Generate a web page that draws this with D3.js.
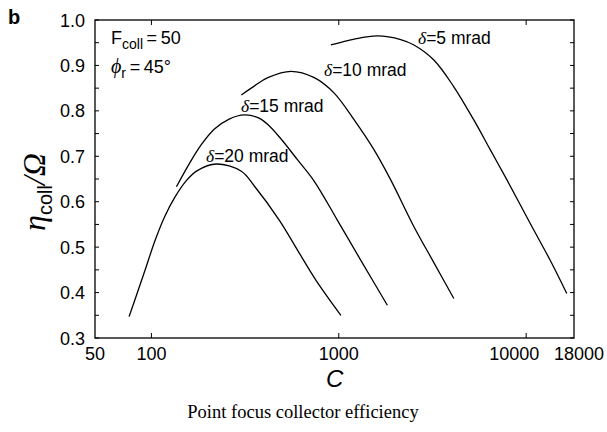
<!DOCTYPE html>
<html><head><meta charset="utf-8">
<script src="https://cdn.jsdelivr.net/npm/d3@7"></script>
<style>body{margin:0;background:#fff}</style>
</head><body>
<svg id="chart" width="607" height="432"></svg>
<script>
// ---- data ----
const xTicks = [50, 100, 1000, 10000, 18000];
const xMajor = [100, 1000, 10000];
const yTicks = [0.3, 0.4, 0.5, 0.6, 0.7, 0.8, 0.9, 1.0];
const yMinor = [0.35, 0.45, 0.55, 0.65, 0.75, 0.85, 0.95];

const d20C = [76, 85, 94, 104, 118, 133, 154, 175, 222, 302, 355, 482, 603, 756, 1026];
const d20V = [0.347, 0.405, 0.458, 0.512, 0.568, 0.609, 0.647, 0.668, 0.683, 0.667, 0.634, 0.559, 0.493, 0.427, 0.350];
const d15C = [136, 160, 185, 217, 260, 314, 370, 418, 492, 603, 740, 984, 1311, 1816];
const d15V = [0.633, 0.685, 0.726, 0.760, 0.782, 0.791, 0.785, 0.770, 0.738, 0.692, 0.645, 0.559, 0.471, 0.372];
const d10C = [302, 355, 418, 556, 740, 945, 1208, 1543, 1893, 2518, 3216, 4110];
const d10V = [0.835, 0.855, 0.873, 0.887, 0.873, 0.839, 0.780, 0.714, 0.648, 0.545, 0.466, 0.387];
const d5C = [908, 1208, 1607, 2140, 2518, 3216, 4110, 5255, 6442, 7897, 10515, 13435, 16470];
const d5V = [0.945, 0.958, 0.965, 0.957, 0.945, 0.912, 0.853, 0.780, 0.714, 0.648, 0.552, 0.471, 0.398];

const seriesNames = ["20", "15", "10", "5"];

// ---- drawing ----
const svg = d3.select("#chart");
const L = 95, R = 574, T = 20, B = 338;
const x = d3.scaleLog().domain([50, 18000]).range([L, R]);
const y = d3.scaleLinear().domain([0.3, 1.0]).range([B, T]);
const sans = "'Liberation Sans', Arial, Helvetica, sans-serif";
const serif = "'Liberation Serif', 'Times New Roman', serif";

// frame
svg.append("rect").attr("x", L).attr("y", T).attr("width", R - L).attr("height", B - T)
  .attr("fill", "none").attr("stroke", "#000").attr("stroke-width", 1.3);

// ticks (inward, both sides)
const tk = 5;
xMajor.forEach(v => {
  svg.append("line").attr("x1", x(v)).attr("x2", x(v)).attr("y1", B).attr("y2", B - tk).attr("stroke", "#000");
  svg.append("line").attr("x1", x(v)).attr("x2", x(v)).attr("y1", T).attr("y2", T + tk).attr("stroke", "#000");
});
yTicks.concat(yMinor).forEach(v => {
  svg.append("line").attr("x1", L).attr("x2", L + 4).attr("y1", y(v)).attr("y2", y(v)).attr("stroke", "#000");
  svg.append("line").attr("x1", R).attr("x2", R - 4).attr("y1", y(v)).attr("y2", y(v)).attr("stroke", "#000");
});

// tick labels
const xLabelShift = {10000: -12, 18000: 5};
xTicks.forEach(v => {
  svg.append("text").attr("x", x(v) + (xLabelShift[v] || 0)).attr("y", 360).attr("text-anchor", "middle")
    .attr("font-family", sans).attr("font-size", 18).text(String(v));
});
yTicks.forEach(v => {
  svg.append("text").attr("x", 85).attr("y", y(v) + 6.5).attr("text-anchor", "end")
    .attr("font-family", sans).attr("font-size", 18).text(v.toFixed(1));
});

// curves
const line = d3.line().x(d => x(d[0])).y(d => y(d[1])).curve(d3.curveCatmullRom.alpha(0.5));
[[d20C, d20V], [d15C, d15V], [d10C, d10V], [d5C, d5V]].forEach(([cs, vs]) => {
  svg.append("path").datum(cs.map((c, i) => [c, vs[i]]))
    .attr("d", line).attr("fill", "none").attr("stroke", "#000").attr("stroke-width", 1.3);
});

// curve labels
const labelPos = [[206, 162], [241, 112], [324, 76], [418, 44]];
seriesNames.forEach((n, i) => {
  const t = svg.append("text").attr("x", labelPos[i][0]).attr("y", labelPos[i][1])
    .attr("font-family", sans).attr("font-size", 17.5);
  t.append("tspan").attr("font-family", serif).attr("font-style", "italic").text("δ");
  t.append("tspan").text("=" + n + " mrad");
});

// parameter annotations
const a1 = svg.append("text").attr("x", 111).attr("y", 44).attr("font-family", sans).attr("font-size", 18);
a1.append("tspan").text("F");
a1.append("tspan").attr("font-size", 14).attr("dy", 5).text("coll");
a1.append("tspan").attr("dy", -5).text("\u2009=\u200950");
const a2 = svg.append("text").attr("x", 111).attr("y", 73).attr("font-family", sans).attr("font-size", 18);
a2.append("tspan").attr("font-family", serif).attr("font-style", "italic").attr("font-size", 20).text("\u03D5");
a2.append("tspan").attr("font-size", 14).attr("dy", 5).text("r");
a2.append("tspan").attr("dy", -5).text("\u2009=\u200945°");

// panel letter
svg.append("text").attr("x", 8).attr("y", 24).attr("font-family", sans).attr("font-weight", "bold")
  .attr("font-size", 20).text("b");

// axis titles
svg.append("text").attr("x", x(1000) - 4).attr("y", 387).attr("text-anchor", "middle")
  .attr("font-family", sans).attr("font-style", "italic").attr("font-size", 24).text("C");
const yl = svg.append("text").attr("transform", "translate(45,192) rotate(-90)")
  .attr("text-anchor", "middle").attr("font-family", sans).attr("font-size", 30);
yl.append("tspan").attr("font-family", serif).attr("font-style", "italic").attr("font-size", 32).text("η");
yl.append("tspan").attr("font-size", 20).attr("dy", 7).text("coll");
yl.append("tspan").attr("dy", -7).attr("font-family", serif).attr("font-style", "italic").attr("font-size", 32).text("/Ω");

// caption
svg.append("text").attr("x", 303).attr("y", 418).attr("text-anchor", "middle")
  .attr("font-family", serif).attr("font-size", 18.5).text("Point focus collector efficiency");
</script>
</body></html>
